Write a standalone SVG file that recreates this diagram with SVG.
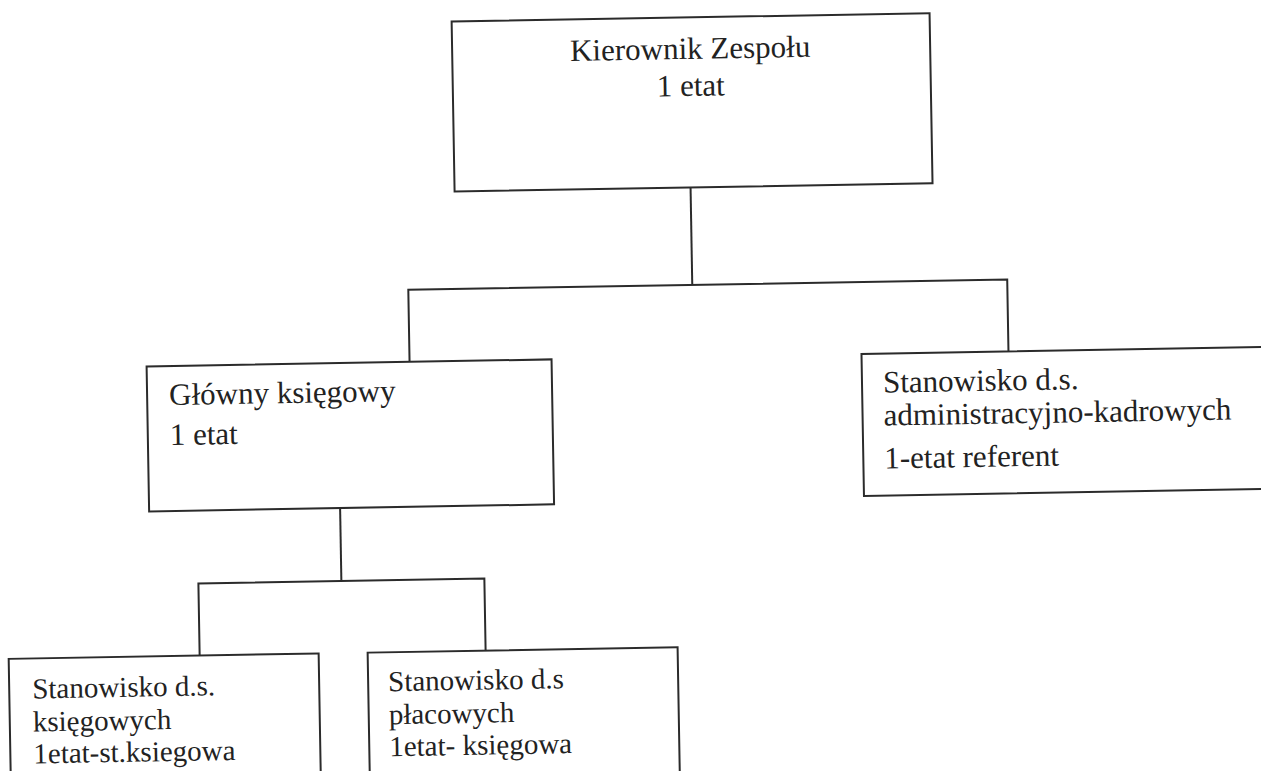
<svg xmlns="http://www.w3.org/2000/svg" width="1261" height="771" viewBox="0 0 1261 771">
<style>
.box{fill:#ffffff;stroke:#2b2b2b;stroke-width:2}
.conn{fill:none;stroke:#2b2b2b;stroke-width:2}
text{font-family:'Liberation Serif','DejaVu Serif','Times New Roman',serif;fill:#222222}
.big{font-size:31px}
.small{font-size:29px}
</style>
<rect x="0" y="0" width="1261" height="771" fill="#ffffff"/>
<g transform="rotate(-1 630 385)" font-family="Liberation Serif, DejaVu Serif, serif">
  <g id="connectors">
    <path class="conn" d="M694 188.5 V286"/>
    <path class="conn" d="M410 358 V286 H1009 V358"/>
    <path class="conn" d="M338 503 V576"/>
    <path class="conn" d="M195 648 V576 H481 V648"/>
  </g>
  <g id="kierownik">
    <rect class="box" x="458" y="18.5" width="478" height="170"/>
    <text class="big" x="696" y="60" text-anchor="middle">Kierownik Zespołu</text>
    <text class="big" x="696" y="97" text-anchor="middle">1 etat</text>
  </g>
  <g id="glowny">
    <rect class="box" x="147" y="358" width="405" height="145"/>
    <text class="big" x="169" y="397">Główny księgowy</text>
    <text class="big" x="169" y="437">1 etat</text>
  </g>
  <g id="admin">
    <rect class="box" x="862" y="358" width="430" height="142"/>
    <text class="big" x="883" y="397">Stanowisko d.s.</text>
    <text class="big" x="883" y="430">administracyjno-kadrowych</text>
    <text class="big" x="883" y="473">1-etat referent</text>
  </g>
  <g id="ksiegowych">
    <rect class="box" x="4" y="648" width="310" height="150"/>
    <text class="small" x="27" y="688">Stanowisko d.s.</text>
    <text class="small" x="27" y="721">księgowych</text>
    <text class="small" x="27" y="753">1etat-st.ksiegowa</text>
  </g>
  <g id="placowych">
    <rect class="box" x="363" y="648" width="310" height="150"/>
    <text class="small" x="383" y="687">Stanowisko d.s</text>
    <text class="small" x="383" y="720">płacowych</text>
    <text class="small" x="383" y="752">1etat- księgowa</text>
  </g>
</g>
</svg>
